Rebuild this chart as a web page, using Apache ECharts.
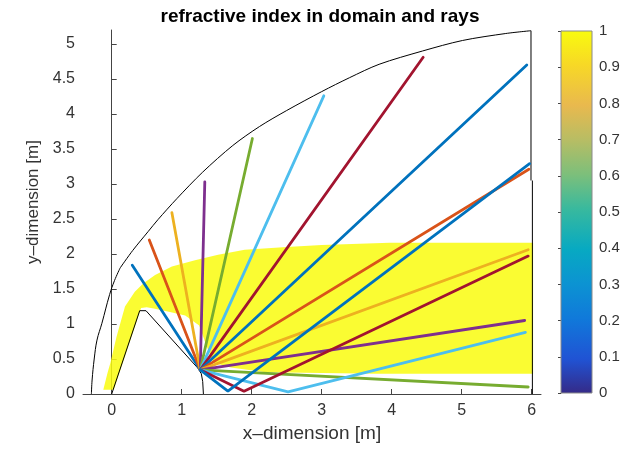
<!DOCTYPE html>
<html>
<head>
<meta charset="utf-8">
<script src="https://cdn.jsdelivr.net/npm/echarts@6/dist/echarts.min.js"></script>
<style>
  html, body { margin: 0; padding: 0; background: #fff; }
  #chart { width: 641px; height: 449px; }
</style>
</head>
<body>
<div id="chart"></div>
<script>
// tick labels
const xTicks = [0, 1, 2, 3, 4, 5, 6]
const yTicks = [0, 0.5, 1, 1.5, 2, 2.5, 3, 3.5, 4, 4.5, 5]

// domain boundaries (black)
const leftBoundary = [[-0.29, 0], [-0.28, 0.2], [-0.25, 0.5], [-0.21, 0.77], [-0.14, 1.01], [-0.03, 1.42],
  [0.04, 1.62], [0.12, 1.8]]
const outerArc = [[0.12, 1.8], [0.3, 2.05], [0.52, 2.32], [0.66, 2.49], [0.93, 2.79], [1.3, 3.17], [1.73, 3.55],
  [2.11, 3.82], [2.5, 4.05], [3.0, 4.32], [3.4, 4.52], [3.82, 4.71], [4.44, 4.9], [5.01, 5.05], [5.63, 5.15],
  [5.99, 5.19]]
const rightWallUpper = [[5.99, 5.19], [5.99, 3.05]]
const rightWallLower = [[6.01, 3.05], [6.01, 0]]
const innerBoundary = [[0, 0], [0.4, 1.19], [0.49, 1.19], [1.23, 0.37], [1.28, 0.29], [1.3, 0.18], [1.31, 0]]

// region where refractive index = 1
const indexOneRegion = [[-0.12, 0.06], [-0.06, 0.3], [-0.02, 0.44], [0.07, 0.82], [0.19, 1.25], [0.33, 1.46],
  [0.45, 1.58], [0.62, 1.7], [0.86, 1.82], [1.19, 1.91], [1.52, 1.99], [1.9, 2.06], [2.5, 2.1], [3.0, 2.13],
  [3.97, 2.16], [6.02, 2.16], [6.02, 0.29], [3.8, 0.29], [2.2, 0.31], [1.7, 0.38], [1.45, 0.45], [1.35, 0.7],
  [1.25, 0.98], [1.05, 1.12], [0.8, 1.18], [0.6, 1.22], [0.5, 1.24], [0.42, 1.23], [0.03, 0.06]]

// rays, all starting at the source
const rays = [
  [[1.265, 0.345], [0.294, 1.84]],
  [[1.265, 0.345], [0.537, 2.2]],
  [[1.265, 0.345], [0.86, 2.59]],
  [[1.265, 0.345], [1.33, 3.03]],
  [[1.265, 0.345], [2.01, 3.65]],
  [[1.265, 0.345], [3.03, 4.26]],
  [[1.265, 0.345], [4.45, 4.81]],
  [[1.265, 0.345], [5.93, 4.7]],
  [[1.265, 0.345], [5.96, 3.21]],
  [[1.265, 0.345], [5.95, 2.06]],
  [[1.265, 0.345], [5.9, 1.05]],
  [[1.265, 0.345], [5.95, 0.1]],
  [[1.265, 0.345], [2.52, 0.03], [5.91, 0.88]],
  [[1.265, 0.345], [1.89, 0.04], [5.95, 1.97]],
  [[1.265, 0.345], [1.66, 0.04], [5.97, 3.29]]
]
const rayColors = ['#0072BD', '#D95319', '#EDB120', '#7E2F8E', '#77AC30', '#4DBEEE', '#A2142F']

// parula colormap
const parula = [
  [0, '#352A87'], [0.095, '#2053D4'], [0.206, '#1079DA'], [0.302, '#0C93D2'], [0.397, '#07A9C2'],
  [0.508, '#38B99E'], [0.603, '#7CBF7B'], [0.698, '#B7BD64'], [0.794, '#E9B94E'], [0.905, '#F7D826'],
  [1, '#F9FB0E']
]

const chart = echarts.init(document.getElementById('chart'), null, { renderer: 'canvas' })

const font = 'Liberation Sans, Helvetica, Arial, sans-serif'

const series = []

// yellow mesh area
series.push({
  type: 'custom',
  xAxisIndex: 0,
  yAxisIndex: 0,
  data: indexOneRegion,
  silent: true,
  z: 1,
  renderItem: function (params, api) {
    if (params.dataIndex !== 0) return null
    const pts = indexOneRegion.map(p => api.coord(p))
    return {
      type: 'polygon',
      shape: { points: pts },
      style: { fill: parula[parula.length - 1][1], opacity: 0.85 }
    }
  }
})

// boundaries
const boundaries = [
  [leftBoundary, 0.4], [outerArc, 0.3], [rightWallUpper, 0], [rightWallLower, 0], [innerBoundary, 0]
]
boundaries.forEach(b => {
  series.push({
    type: 'line',
    data: b[0],
    symbol: 'none',
    smooth: b[1],
    silent: true,
    z: 2,
    lineStyle: { color: '#000', width: 1 }
  })
})

// rays
rays.forEach((r, i) => {
  series.push({
    type: 'line',
    data: r,
    symbol: 'none',
    silent: true,
    z: 3,
    lineStyle: { color: rayColors[i % rayColors.length], width: 2.8, cap: 'round' }
  })
})

// colorbar
series.push({
  type: 'custom',
  xAxisIndex: 1,
  yAxisIndex: 1,
  data: [[0, 0]],
  silent: true,
  renderItem: function (params, api) {
    const p0 = api.coord([0, 0])
    const p1 = api.coord([1, 1])
    return {
      type: 'rect',
      shape: { x: p0[0], y: p1[1], width: p1[0] - p0[0], height: p0[1] - p1[1] },
      style: {
        fill: new echarts.graphic.LinearGradient(0, 1, 0, 0,
          parula.map(s => ({ offset: s[0], color: s[1] }))),
        stroke: '#8a8a8a',
        lineWidth: 1
      }
    }
  }
})

chart.setOption({
  animation: false,
  title: {
    text: 'refractive index in domain and rays',
    left: 315,
    textAlign: 'center',
    top: 2,
    textStyle: { fontFamily: font, fontSize: 19, fontWeight: 'bold', color: '#000' }
  },
  grid: [
    { left: 83, top: 30, width: 458, height: 364 },
    { left: 561, top: 31, width: 31, height: 362 }
  ],
  xAxis: [
    {
      type: 'value',
      min: -0.41,
      max: 6.133,
      name: 'x–dimension [m]',
      nameLocation: 'middle',
      nameGap: 28,
      nameTextStyle: { fontFamily: font, fontSize: 19, color: '#333' },
      axisLine: { onZero: false, lineStyle: { color: '#444', width: 1 } },
      axisTick: { inside: true, length: 5, customValues: xTicks, lineStyle: { color: '#444' } },
      axisLabel: { customValues: xTicks, fontFamily: font, fontSize: 16, color: '#333', margin: 9 },
      splitLine: { show: false }
    },
    { type: 'value', gridIndex: 1, min: 0, max: 1, show: false }
  ],
  yAxis: [
    {
      type: 'value',
      min: 0,
      max: 5.2,
      name: 'y–dimension [m]',
      nameLocation: 'middle',
      nameGap: 37,
      nameRotate: 90,
      nameTextStyle: { fontFamily: font, fontSize: 17, color: '#333', padding: [0, 0, 0, 20] },
      axisLine: { show: true, lineStyle: { color: '#444', width: 1 } },
      axisTick: { show: true, inside: true, length: 5, customValues: yTicks, lineStyle: { color: '#444' } },
      axisLabel: { customValues: yTicks, fontFamily: font, fontSize: 16, color: '#333', margin: 8 },
      splitLine: { show: false }
    },
    {
      type: 'value',
      gridIndex: 1,
      min: 0,
      max: 1,
      interval: 0.1,
      position: 'right',
      axisLine: { show: true, lineStyle: { color: '#8a8a8a' } },
      axisTick: { show: true, inside: true, length: 3, lineStyle: { color: '#444' } },
      axisLabel: { fontFamily: font, fontSize: 15, color: '#333', margin: 7 },
      splitLine: { show: false }
    }
  ],
  series: series
})
</script>
</body>
</html>
